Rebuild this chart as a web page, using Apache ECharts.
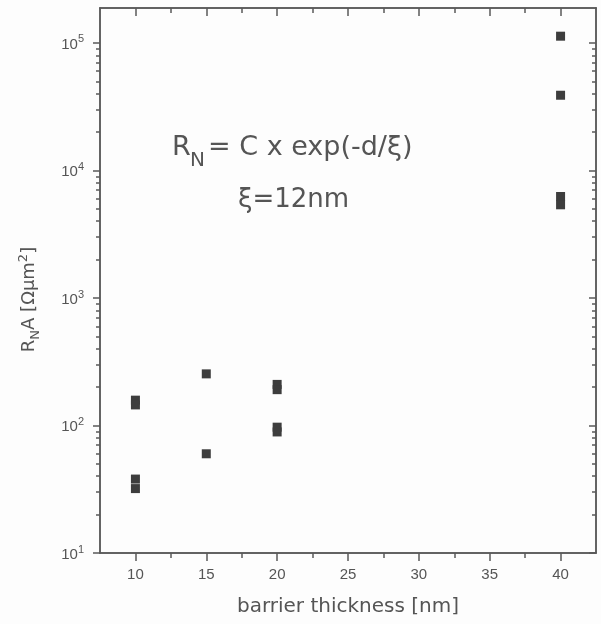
<!DOCTYPE html>
<html>
<head>
<meta charset="utf-8">
<script src="https://cdn.jsdelivr.net/npm/echarts@6/dist/echarts.min.js"></script>
<style>
html,body{margin:0;padding:0;background:#fdfdfd;}
#c{width:601px;height:624px;}
</style>
</head>
<body>
<div id="c"></div>
<script>
// ---- data ----
const thickness = [10, 10, 10, 10, 15, 15, 20, 20, 20, 20, 40, 40, 40, 40];
const resistance = [158, 145, 38, 32, 254, 60, 210, 191, 97, 89, 113000, 38900, 6250, 5380];
const xMajorTicks = [10, 15, 20, 25, 30, 35, 40];
const xMinorTicks = [12.5, 17.5, 22.5, 27.5, 32.5, 37.5];
const yMajorTicks = [10, 100, 1000, 10000, 100000];
const yMinorTicks = [20,30,40,50,60,70,80,90,200,300,400,500,600,700,800,900,
  2000,3000,4000,5000,6000,7000,8000,9000,20000,30000,40000,50000,60000,70000,80000,90000];
const xMin = 7.5, xMax = 42.5;
const yMin = 10, yMax = 188000;

const axisColor = '#5a5a5a';
const textColor = '#555';

function xAxisDef(pos, ticks, len, inside, labels) {
  return {
    type: 'value', position: pos, min: xMin, max: xMax,
    axisLine: {show: true, lineStyle: {color: axisColor, width: 1.5}},
    axisTick: {show: true, customValues: ticks, length: len, inside: inside, lineStyle: {color: axisColor, width: 1.5}},
    axisLabel: labels ? {show: true, customValues: ticks, margin: 14, fontSize: 15, color: textColor, fontFamily: 'Liberation Sans'} : {show: false},
    splitLine: {show: false}
  };
}
function yAxisDef(pos, ticks, len, inside, labels) {
  return {
    type: 'log', logBase: 10, position: pos, min: yMin, max: yMax,
    axisLine: {show: true, lineStyle: {color: axisColor, width: 1.5}},
    axisTick: {show: true, customValues: ticks, length: len, inside: inside, lineStyle: {color: axisColor, width: 1.5}},
    axisLabel: labels ? {
      show: true, customValues: ticks, margin: 16,
      formatter: v => '{b|10}{s|' + Math.round(Math.log10(v)) + '}',
      rich: {
        b: {fontSize: 15, color: textColor, fontFamily: 'Liberation Sans', verticalAlign: 'bottom', lineHeight: 18},
        s: {fontSize: 11, color: textColor, fontFamily: 'Liberation Sans', verticalAlign: 'bottom', lineHeight: 18, padding: [0, 0, 7, 0]}
      }
    } : {show: false},
    splitLine: {show: false}
  };
}

const xs = [
  Object.assign(xAxisDef('bottom', xMajorTicks, 8, false, true), {
    name: 'barrier thickness [nm]', nameLocation: 'middle', nameGap: 44,
    nameTextStyle: {fontSize: 20, color: textColor, fontFamily: 'DejaVu Sans'}
  }),
  xAxisDef('bottom', xMinorTicks, 5, false, false),
  xAxisDef('top', xMajorTicks, 8, true, false),
  xAxisDef('top', xMinorTicks, 5, true, false)
];
const ys = [
  Object.assign(yAxisDef('left', yMajorTicks, 7, false, true), {
    name: '{a|R}{n|N}{a|A [Ωμm}{p|2}{a|]}', nameLocation: 'middle', nameGap: 62, nameRotate: 90,
    nameTextStyle: {
      padding: [0, 38, 0, 0],
      rich: {
        a: {fontSize: 18, color: textColor, fontFamily: 'DejaVu Sans', verticalAlign: 'bottom', lineHeight: 22},
        n: {fontSize: 13, color: textColor, fontFamily: 'DejaVu Sans', verticalAlign: 'bottom', lineHeight: 22, padding: [0, 0, -4, 0]},
        p: {fontSize: 13, color: textColor, fontFamily: 'DejaVu Sans', verticalAlign: 'bottom', lineHeight: 22, padding: [0, 0, 8, 0]}
      }
    }
  }),
  yAxisDef('left', yMinorTicks, 4, false, false),
  yAxisDef('right', yMajorTicks, 7, true, false),
  yAxisDef('right', yMinorTicks, 4, true, false)
];

const chart = echarts.init(document.getElementById('c'), null, {renderer: 'canvas'});
chart.setOption({
  backgroundColor: '#fdfdfd',
  animation: false,
  grid: {left: 100, right: 5, top: 8, bottom: 71, containLabel: false},
  xAxis: xs,
  yAxis: ys,
  series: [{
    type: 'scatter', xAxisIndex: 0, yAxisIndex: 0,
    symbol: 'rect', symbolSize: [9, 9],
    itemStyle: {color: '#3d3d3d', opacity: 1},
    data: thickness.map((x, i) => [x, resistance[i]])
  }],
  graphic: [
    {type: 'text', left: 172, top: 134, style: {text: 'R', fontSize: 27, fill: textColor, fontFamily: 'DejaVu Sans'}},
    {type: 'text', left: 190, top: 151, style: {text: 'N', fontSize: 20, fill: textColor, fontFamily: 'DejaVu Sans'}},
    {type: 'text', left: 208, top: 134, style: {text: '= C x exp(-d/ξ)', fontSize: 27, fill: textColor, fontFamily: 'DejaVu Sans'}},
    {type: 'text', left: 238, top: 187, style: {text: 'ξ=12nm', fontSize: 26, fill: textColor, fontFamily: 'DejaVu Sans'}}
  ]
});
</script>
</body>
</html>
